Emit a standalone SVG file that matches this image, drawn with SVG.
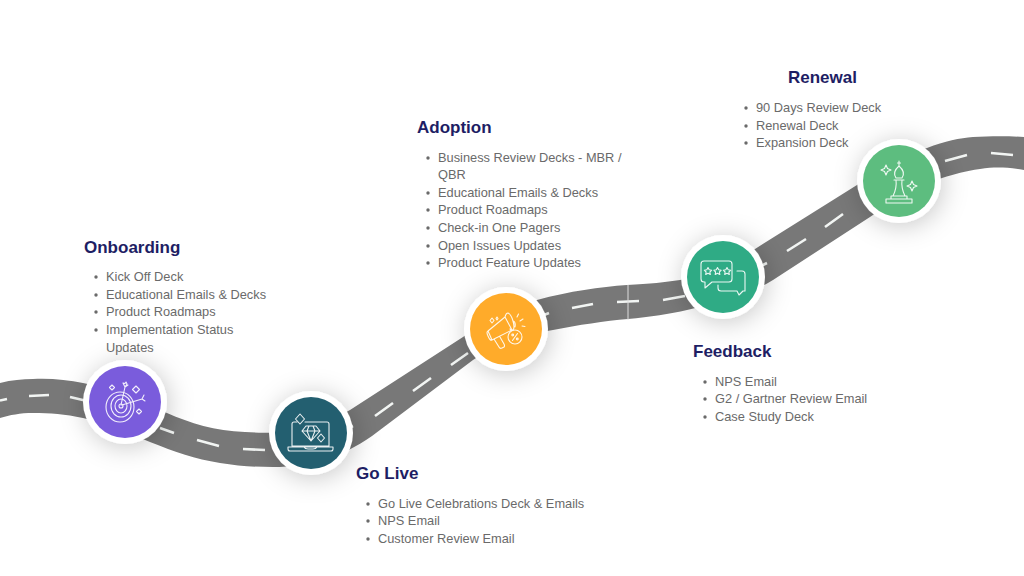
<svg xmlns="http://www.w3.org/2000/svg" width="1024" height="576" viewBox="0 0 1024 576">
<defs>
<style>
.road{fill:#787878;stroke:none}
.dash{fill:none;stroke:#f2f5f3;stroke-width:2.6}
.halo{fill:#fff;filter:url(#sh)}
.ic{fill:none;stroke:#fff;stroke-width:1.1;stroke-linejoin:round;stroke-linecap:round;opacity:.9}
.t{font:bold 17px "Liberation Sans",Arial,sans-serif;fill:#1e1e64}
.b{font:12.8px "Liberation Sans",Arial,sans-serif;fill:#6a6a6a}
.d{fill:#6a6a6a}
</style>
<filter id="sh" x="-60%" y="-60%" width="220%" height="220%"><feDropShadow dx="2" dy="3" stdDeviation="13" flood-color="#000" flood-opacity=".22"/></filter>
</defs>
<rect width="1024" height="576" fill="#fff"/>
<g id="connectors">
<path id="roadline" class="road" d="M0 383C12 380 22 379 33 379C50 378 68 380 83 383C115 389 140 403 167 413C190 423 215 431 245 432C275 434 310 433 350 410L463 337C490 318 515 304 537 300C570 291 600 287 627 285C650 284 665 282 680 280C705 276 730 264 755 249L857 185C880 170 905 155 927 148C945 141 960 138 973 137C990 136 1010 136 1024 137V170C1005 167 995 167 980 169C965 171 955 174 942 178C920 186 895 200 870 217L773 280C745 297 715 304 687 310C670 314 650 317 628 319C605 321 578 325 553 330C525 334 500 342 473 360L372 436C340 458 310 467 273 467C255 467 238 466 220 463C195 459 175 452 150 442C125 432 105 423 83 418C65 414 50 413 33 413C20 413 10 415 0 418Z"/>
<path class="dash" d="M0 400.500L7 399M29 396L49 395M70 397L87 401M160 428L174 433M197 440L219 446M243 449L265 450M351 427L353 426M375 416L393 403M413 391L431 378M451 365L468 353M544 315L549 313M572 308L593 304M617 302L639 301M663 300L685 296M761 266L767 263M787 251L806 239M825 227L843 214M945 161L967 155M991 153L1013 155"/>
<path d="M628 285V320" stroke="#ddd" stroke-width="1" fill="none"/>
</g>
<g id="onboarding">
<circle class="halo" cx="125" cy="402" r="42"/><circle cx="125" cy="402" r="36" fill="#7a5cdc"/>
<g class="ic"><ellipse cx="120" cy="407" rx="14" ry="15"/><ellipse cx="121" cy="406" rx="10" ry="11"/><ellipse cx="121" cy="406" rx="6" ry="7"/><circle cx="121" cy="406" r="2"/><path d="M121 405L125 387M122 405L142 399M125 387l-2-4 2 .5 1-1.500 1 2zM125 387l3-2M142 399l2-4M142 399l3 2"/><path d="M112 385l2.500 2.500-2.500 2.500-2.500-2.500zM136 386l3.500 3.500-3.500 3.500-3.500-3.500zM139 409l2.500 2.500-2.500 2.500-2.500-2.500z"/></g>
<text class="t" x="84" y="253">Onboarding</text>
<g class="b"><text x="106" y="281">Kick Off Deck</text><text x="106" y="299">Educational Emails &amp; Decks</text><text x="106" y="316">Product Roadmaps</text><text x="106" y="334">Implementation Status</text><text x="106" y="352">Updates</text></g>
<g class="d"><circle cx="96" cy="277" r="1.7"/><circle cx="96" cy="295" r="1.7"/><circle cx="96" cy="312" r="1.7"/><circle cx="96" cy="330" r="1.7"/></g>
</g>
<g id="golive">
<circle class="halo" cx="311" cy="433" r="42"/><circle cx="311" cy="433" r="36" fill="#235f70"/>
<g class="ic"><path d="M297 422H294Q292 422 292 424V446H329V424Q329 422 327 422H305M288 447H333V449Q333 451 331 451H290Q288 451 288 449ZM304 447q1 2 4 2h5q3 0 4-2M306 426h10l4 5-9 10-9-10zM302 431h18M309 426l-2 5 4 10 4-10-2-5"/><path d="M300 414l4.500 5-4.500 5-4.500-5zM321 434l3.500 4-3.500 4-3.500-4z"/></g>
<text class="t" x="356" y="479">Go Live</text>
<g class="b"><text x="378" y="508">Go Live Celebrations Deck &amp; Emails</text><text x="378" y="525">NPS Email</text><text x="378" y="543">Customer Review Email</text></g>
<g class="d"><circle cx="368" cy="504" r="1.7"/><circle cx="368" cy="521" r="1.7"/><circle cx="368" cy="539" r="1.7"/></g>
</g>
<g id="adoption">
<circle class="halo" cx="506" cy="329" r="42"/><circle cx="506" cy="329" r="36" fill="#ffab2a"/>
<g class="ic"><path d="M488 331L505 317L512 330L492 340ZM488 331q-2 1 0 5q2 5 4 4M494 339l5 8q1 2 3 1l2-1q1-1 0-3l-4-7M505 317q1-4 3-4q3 1 5 8q2 7 0 9q-1 1-3-1M513 321q3 1 2 6"/><circle cx="515" cy="337" r="7"/><path d="M512.500 340.500l5-7"/><circle cx="512.700" cy="335" r=".9"/><circle cx="517.300" cy="339" r=".9"/><path d="M492 318l2 2.500-2 2.500-2-2.500zM497 317l1 1.500-1 1.500-1-1.500zM517 317l1.500-3M520 321l3-2M522 326l3 .5"/></g>
<text class="t" x="417" y="133">Adoption</text>
<g class="b"><text x="438" y="162">Business Review Decks - MBR /</text><text x="438" y="179">QBR</text><text x="438" y="197">Educational Emails &amp; Decks</text><text x="438" y="214">Product Roadmaps</text><text x="438" y="232">Check-in One Pagers</text><text x="438" y="250">Open Issues Updates</text><text x="438" y="267">Product Feature Updates</text></g>
<g class="d"><circle cx="428" cy="158" r="1.7"/><circle cx="428" cy="193" r="1.7"/><circle cx="428" cy="210" r="1.7"/><circle cx="428" cy="228" r="1.7"/><circle cx="428" cy="246" r="1.7"/><circle cx="428" cy="263" r="1.7"/></g>
</g>
<g id="feedback">
<circle class="halo" cx="723" cy="277" r="42"/><circle cx="723" cy="277" r="36" fill="#2fab85"/>
<g class="ic"><path d="M704 261H729Q732 261 732 264V279Q732 282 729 282H712L705 288V282H704Q701 282 701 279V264Q701 261 704 261ZM737 271H742Q745 271 745 274V291H743L739 295L737 291H721Q718 291 718 288V285"/><path d="M708 267.500l1.200 2.300 2.500.4-1.800 1.800.4 2.500-2.300-1.200-2.300 1.200.4-2.500-1.800-1.800 2.500-.4zM717.500 267.500l1.200 2.300 2.500.4-1.800 1.800.4 2.500-2.300-1.200-2.300 1.200.4-2.500-1.800-1.800 2.500-.4zM727 267.500l1.200 2.300 2.500.4-1.800 1.800.4 2.500-2.300-1.200-2.300 1.200.4-2.500-1.800-1.800 2.500-.4z"/></g>
<text class="t" x="693" y="357">Feedback</text>
<g class="b"><text x="715" y="386">NPS Email</text><text x="715" y="403">G2 / Gartner Review Email</text><text x="715" y="421">Case Study Deck</text></g>
<g class="d"><circle cx="705" cy="382" r="1.7"/><circle cx="705" cy="399" r="1.7"/><circle cx="705" cy="417" r="1.7"/></g>
</g>
<g id="renewal">
<circle class="halo" cx="899" cy="181" r="42"/><circle cx="899" cy="181" r="36" fill="#5dbd7f"/>
<g class="ic"><path d="M886 203H912V199H886ZM891 199H907V196H891ZM893 196Q897 188 896 180H902Q901 188 905 196M894 180H904M896 178Q892 172 899 166Q906 172 902 178ZM899 166V161M897.500 163H900.500"/><path d="M886 165l1.500 3.500 3.500 1.500-3.500 1.500-1.500 3.500-1.500-3.500-3.500-1.500 3.500-1.500zM912 181l1.500 3.500 3.500 1.500-3.500 1.500-1.500 3.500-1.500-3.500-3.500-1.500 3.500-1.500z"/></g>
<text class="t" x="788" y="83">Renewal</text>
<g class="b"><text x="756" y="112">90 Days Review Deck</text><text x="756" y="130">Renewal Deck</text><text x="756" y="147">Expansion Deck</text></g>
<g class="d"><circle cx="746" cy="108" r="1.7"/><circle cx="746" cy="126" r="1.7"/><circle cx="746" cy="143" r="1.7"/></g>
</g>
</svg>
